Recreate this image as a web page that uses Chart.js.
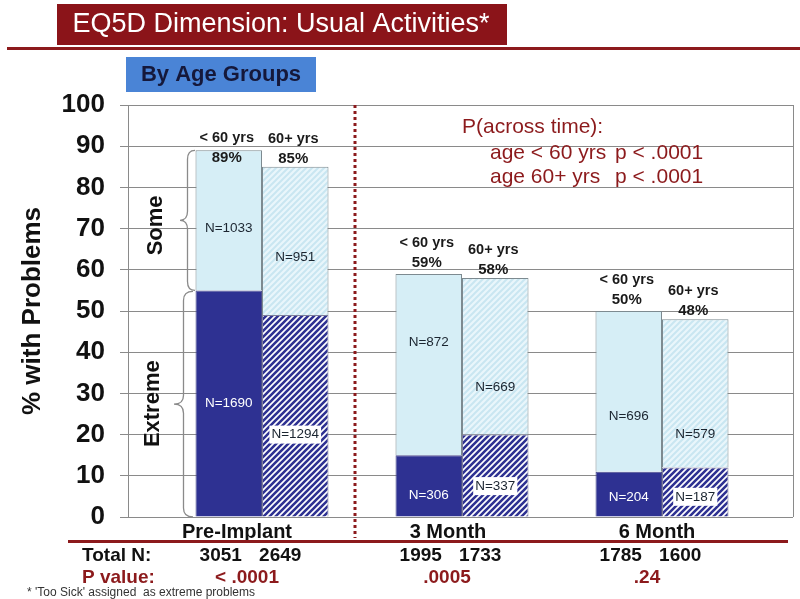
<!DOCTYPE html>
<html>
<head>
<meta charset="utf-8">
<script src="https://cdn.jsdelivr.net/npm/chart.js@4.4.1/dist/chart.umd.min.js"></script>
<style>
  html, body { margin: 0; padding: 0; background: #fff; }
</style>
</head>
<body>
<canvas id="chart" width="800" height="599"></canvas>
<script>
/* ======================= DATA ======================= */
const CATEGORIES = ['Pre-Implant', '3 Month', '6 Month'];

// % with problems, stacked: extreme at the bottom, some on top
const YOUNG_EXTREME = [55, 15, 11];
const YOUNG_SOME    = [34, 44, 39];
const OLD_EXTREME   = [49, 20, 12];
const OLD_SOME      = [36, 38, 36];

// N inside each segment
const YOUNG_N_EXTREME = [1690, 306, 204];
const YOUNG_N_SOME    = [1033, 872, 696];
const OLD_N_EXTREME   = [1294, 337, 187];
const OLD_N_SOME      = [951, 669, 579];

const TOTAL_N_YOUNG = [3051, 1995, 1785];
const TOTAL_N_OLD   = [2649, 1733, 1600];
const P_VALUES      = ['< .0001', '.0005', '.24'];

const Y_TICKS = [0, 10, 20, 30, 40, 50, 60, 70, 80, 90, 100];

const ANNOT_TITLE = 'P(across time):';
const ANNOT_ROWS  = [['age < 60 yrs', 'p < .0001'], ['age 60+ yrs', 'p < .0001']];

/* ======================= LAYOUT ======================= */
const FONT = "'Liberation Sans', Arial, sans-serif";
const DARK_RED = '#8c1a1c';
const NAVY = '#2e3192';
const LIGHT = '#d6eef6';
const CAT_LABEL_AT = [-0.125, 0.93, 1.975];   // where the category names sit on the x scale
const DIVIDER_AT = 0.465;
// value (y units) where each N label is centred, per dataset
const N_LABEL_AT = [
  [27.5, 5.3, 4.9],
  [70, 42.5, 24.5],
  [20, 7.5, 4.9],
  [63, 31.5, 20]
];

/* ======================= PATTERNS ======================= */
function stripes(bg, fg, size, lw) {
  const c = document.createElement('canvas');
  c.width = c.height = size;
  const g = c.getContext('2d');
  g.fillStyle = bg;
  g.fillRect(0, 0, size, size);
  g.strokeStyle = fg;
  g.lineWidth = lw;
  g.beginPath();
  g.moveTo(0, size); g.lineTo(size, 0);
  g.moveTo(-size / 2, size / 2); g.lineTo(size / 2, -size / 2);
  g.moveTo(size / 2, size * 1.5); g.lineTo(size * 1.5, size / 2);
  g.stroke();
  return g.createPattern(c, 'repeat');
}
const navyStripes = stripes('#ffffff', NAVY, 6, 2.6);
const lightStripes = stripes('#e9f6fb', '#c9e6f1', 6, 2);

const pts = arr => arr.map((v, i) => ({ x: i, y: v }));

/* ======================= DECORATION ======================= */
function brace(ctx, x, y1, y2, d) {
  const ym = (y1 + y2) / 2, q = 9, xm = x - d / 2;
  ctx.beginPath();
  ctx.moveTo(x, y1);
  ctx.quadraticCurveTo(xm, y1, xm, y1 + q);
  ctx.lineTo(xm, ym - q);
  ctx.quadraticCurveTo(xm, ym, x - d, ym);
  ctx.quadraticCurveTo(xm, ym, xm, ym + q);
  ctx.lineTo(xm, y2 - q);
  ctx.quadraticCurveTo(xm, y2, x, y2);
  ctx.stroke();
}

function text(ctx, str, x, y, font, color, align) {
  ctx.font = font;
  ctx.fillStyle = color;
  ctx.textAlign = align || 'center';
  ctx.textBaseline = 'middle';
  ctx.fillText(str, x, y);
}

const decor = {
  id: 'decor',
  beforeDatasetsDraw(chart) {
    const { ctx, chartArea: a } = chart;
    ctx.save();
    ctx.strokeStyle = '#8a8a8a';
    ctx.lineWidth = 1;
    ctx.beginPath();
    ctx.moveTo(a.right + 0.5, a.top);
    ctx.lineTo(a.right + 0.5, a.bottom);
    ctx.stroke();
    ctx.restore();
  },
  afterDatasetsDraw(chart) {
    const { ctx, chartArea: a, scales: { x, y } } = chart;
    ctx.save();

    // dotted divider
    const dx = x.getPixelForValue(DIVIDER_AT);
    ctx.strokeStyle = DARK_RED;
    ctx.lineWidth = 3;
    ctx.setLineDash([3, 3]);
    ctx.beginPath();
    ctx.moveTo(dx, a.top);
    ctx.lineTo(dx, 538);
    ctx.stroke();
    ctx.setLineDash([]);

    // braces
    const yTop = y.getPixelForValue(YOUNG_EXTREME[0] + YOUNG_SOME[0]);
    const yMid = y.getPixelForValue(YOUNG_EXTREME[0]);
    const yBot = y.getPixelForValue(0);
    ctx.strokeStyle = '#8a8a8a';
    ctx.lineWidth = 1.3;
    brace(ctx, 195, yTop, yMid, 15);
    brace(ctx, 193, yMid + 1, yBot, 19);

    ctx.save();
    ctx.translate(156, (yTop + yMid) / 2 + 5);
    ctx.rotate(-Math.PI / 2);
    text(ctx, 'Some', 0, 0, `bold 22px ${FONT}`, '#111');
    ctx.restore();
    ctx.save();
    ctx.translate(153, (yMid + yBot) / 2);
    ctx.rotate(-Math.PI / 2);
    text(ctx, 'Extreme', 0, 0, `bold 22px ${FONT}`, '#111');
    ctx.restore();

    // N labels
    const nSets = [YOUNG_N_EXTREME, YOUNG_N_SOME, OLD_N_EXTREME, OLD_N_SOME];
    nSets.forEach((ns, d) => {
      chart.getDatasetMeta(d).data.forEach((bar, i) => {
        const ly = y.getPixelForValue(N_LABEL_AT[d][i]);
        const s = 'N=' + ns[i];
        ctx.font = `13.5px ${FONT}`;
        if (d === 2) {
          const w = ctx.measureText(s).width;
          ctx.fillStyle = '#fff';
          ctx.fillRect(bar.x - w / 2 - 2, ly - 9, w + 4, 18);
        }
        text(ctx, s, bar.x, ly, `13.5px ${FONT}`, d === 0 ? '#fff' : '#1b2530');
      });
    });

    // top labels
    const tops = [
      { meta: chart.getDatasetMeta(1), name: '< 60 yrs', pct: YOUNG_EXTREME.map((v, i) => v + YOUNG_SOME[i]), off: 31 },
      { meta: chart.getDatasetMeta(3), name: '60+ yrs', pct: OLD_EXTREME.map((v, i) => v + OLD_SOME[i]), off: 28 }
    ];
    tops.forEach(t => {
      t.meta.data.forEach((bar, i) => {
        const l1 = Math.max(138, bar.y - t.off);
        text(ctx, t.name, bar.x - 2, l1, `bold 14.5px ${FONT}`, '#1a1a1a');
        text(ctx, t.pct[i] + '%', bar.x - 2, l1 + 20, `bold 15px ${FONT}`, '#1a1a1a');
      });
    });

    // across-time annotation
    text(ctx, ANNOT_TITLE, 462, 127, `21px ${FONT}`, DARK_RED, 'left');
    ANNOT_ROWS.forEach((r, k) => {
      text(ctx, r[0], 490, 153 + k * 24, `21px ${FONT}`, DARK_RED, 'left');
      text(ctx, r[1], 615, 153 + k * 24, `21px ${FONT}`, DARK_RED, 'left');
    });
    ctx.restore();
  },
  afterDraw(chart) {
    const { ctx, scales: { x } } = chart;
    ctx.save();

    // title banner
    ctx.fillStyle = '#8b1419';
    ctx.fillRect(57, 4, 450, 41);
    text(ctx, 'EQ5D Dimension: Usual Activities*', 281, 25, `27px ${FONT}`, '#fff');
    ctx.fillStyle = DARK_RED;
    ctx.fillRect(7, 47, 793, 3);

    // sub banner
    ctx.fillStyle = '#4a84d6';
    ctx.fillRect(126, 57, 190, 35);
    text(ctx, 'By Age Groups', 221, 75, `bold 22px ${FONT}`, '#15183a');

    // bottom rule + totals
    ctx.fillStyle = DARK_RED;
    ctx.fillRect(68, 540, 720, 3);
    text(ctx, 'Total N:', 82, 556, `bold 19px ${FONT}`, '#111', 'left');
    text(ctx, 'P value:', 82, 578, `bold 19px ${FONT}`, DARK_RED, 'left');
    const young = chart.getDatasetMeta(0).data;
    const old = chart.getDatasetMeta(2).data;
    CATEGORIES.forEach((c, i) => {
      text(ctx, String(TOTAL_N_YOUNG[i]), young[i].x - 8, 556, `bold 19px ${FONT}`, '#111');
      text(ctx, String(TOTAL_N_OLD[i]), old[i].x - 15, 556, `bold 19px ${FONT}`, '#111');
      text(ctx, P_VALUES[i], x.getPixelForValue(i) - 15, 578, `bold 19px ${FONT}`, DARK_RED);
    });
    text(ctx, "* 'Too Sick' assigned  as extreme problems", 27, 593, `12px ${FONT}`, '#333', 'left');
    ctx.restore();
  }
};

/* ======================= CHART ======================= */
const barBase = { borderWidth: 1, barPercentage: 1, categoryPercentage: 0.665 };

new Chart(document.getElementById('chart'), {
  type: 'bar',
  data: {
    datasets: [
      { ...barBase, label: '< 60 yrs extreme', stack: 'young', data: pts(YOUNG_EXTREME), backgroundColor: NAVY, borderColor: '#4a4c8c' },
      { ...barBase, label: '< 60 yrs some', stack: 'young', data: pts(YOUNG_SOME), backgroundColor: LIGHT, borderColor: '#7d8a90' },
      { ...barBase, label: '60+ yrs extreme', stack: 'old', data: pts(OLD_EXTREME), backgroundColor: navyStripes, borderColor: '#7d7d9a' },
      { ...barBase, label: '60+ yrs some', stack: 'old', data: pts(OLD_SOME), backgroundColor: lightStripes, borderColor: '#7d8a90' }
    ]
  },
  options: {
    responsive: false,
    animation: false,
    events: [],
    layout: { padding: { top: 105, right: 7, left: 0, bottom: 0 } },
    plugins: { legend: { display: false }, tooltip: { enabled: false } },
    scales: {
      x: {
        type: 'linear',
        offset: false,
        min: -0.67,
        max: 2.655,
        grid: { display: false, drawTicks: false },
        border: { display: false },
        afterBuildTicks: s => { s.ticks = CAT_LABEL_AT.map(v => ({ value: v })); },
        afterFit: s => { s.height = 82; },
        ticks: {
          autoSkip: false,
          maxRotation: 0,
          padding: 3,
          color: '#111',
          font: { family: FONT, size: 20, weight: 'bold' },
          callback: (v, i) => CATEGORIES[i]
        }
      },
      y: {
        min: 0,
        max: 100,
        afterBuildTicks: s => { s.ticks = Y_TICKS.map(v => ({ value: v })); },
        afterFit: s => { s.width = 128; },
        grid: { color: '#8a8a8a', lineWidth: 1, tickLength: 8 },
        border: { display: true, color: '#8a8a8a', width: 1 },
        ticks: {
          padding: 15,
          color: '#111',
          font: { family: FONT, size: 26, weight: 'bold' }
        },
        title: {
          display: true,
          text: '% with Problems',
          color: '#111',
          font: { family: FONT, size: 26, weight: 'bold' },
          padding: { top: 17, bottom: 0 }
        }
      }
    }
  },
  plugins: [decor]
});
</script>
</body>
</html>
